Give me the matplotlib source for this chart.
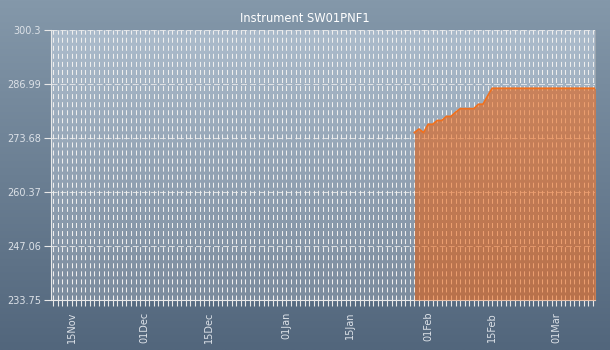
import numpy as np
import pandas as pd
import matplotlib
matplotlib.use("Agg")
import matplotlib.pyplot as plt
import matplotlib.dates as mdates

plt.rc("font", family="DejaVu Sans", size=7)
plt.rc("lines", scale_dashes=False)

# daily readings for the instrument
dates = pd.date_range("2019-01-29", "2019-03-10", freq="D")
values = [275.0, 275.9, 275.0, 277.06, 277.06, 278.0, 278.0, 279.0, 279.0, 280.0,
          280.9, 280.9, 280.9, 280.9, 282.0, 282.0, 284.0] + [285.93] * 24

y_ticks = [233.75, 247.06, 260.37, 273.68, 286.99, 300.3]
x_start, x_end = pd.Timestamp("2018-11-10 12:00"), pd.Timestamp("2019-03-09 12:00")

def vgrad(top, bottom, n=256):
    top = np.array(top) / 255.0
    bottom = np.array(bottom) / 255.0
    t = np.linspace(0, 1, n)[:, None]
    col = top * (1 - t) + bottom * t
    return np.repeat(col[:, None, :], 2, axis=1)

fig = plt.figure(figsize=(6.1, 3.5), dpi=100)
bg = fig.add_axes([0, 0, 1, 1], zorder=-10)
bg.imshow(vgrad((132, 152, 170), (82, 102, 124)), aspect="auto", extent=[0, 1, 0, 1])
bg.axis("off")

ax = fig.add_axes([51 / 610, 1 - 300 / 350, 544 / 610, 270 / 350])
ax.patch.set_alpha(0)
ax.imshow(vgrad((172, 188, 204), (124, 140, 158)), aspect="auto",
          extent=[0, 1, 0, 1], transform=ax.transAxes, zorder=0)

ax.fill_between(dates, values, y_ticks[0], color="#ea5c08", alpha=0.55, lw=0, zorder=3)
ax.plot(dates, values, color="#f0701e", lw=1.3, zorder=4)

ax.set_xlim(x_start, x_end)
ax.set_ylim(y_ticks[0], y_ticks[-1])
ax.set_yticks(y_ticks)
ax.set_yticklabels(["233.75", "247.06", "260.37", "273.68", "286.99", "300.3"])

ax.xaxis.set_major_locator(mdates.DayLocator(bymonthday=[1, 15]))
ax.xaxis.set_major_formatter(mdates.DateFormatter("%d%b"))
ax.xaxis.set_minor_locator(mdates.DayLocator())
ax.tick_params(axis="x", which="both", length=4, width=0.8, color="#e8e8e8",
               labelcolor="#dde2e8", labelrotation=90, pad=4.5)
ax.tick_params(axis="y", length=5, width=0.8, color="#e8e8e8", labelcolor="#dde2e8", pad=2)

ax.grid(True, axis="x", which="both", color="#eeeeee", lw=0.75,
        linestyle=(0, (3.6, 2.2)), zorder=1)
ax.grid(True, axis="y", which="major", color="#eeeeee", lw=0.75, alpha=0.8,
        linestyle=(0, (4.3, 2.2)), zorder=1)
ax.set_axisbelow(False)
for gl in ax.get_xgridlines() + ax.get_ygridlines():
    gl.set_zorder(1)

for s in ["left", "bottom"]:
    ax.spines[s].set_color("#e8e8e8")
ax.spines["right"].set_color("#9aa4ae")
ax.spines["top"].set_visible(False)

fig.text(305 / 610, 1 - 18 / 350, "Instrument SW01PNF1", ha="center", va="center",
         color="white", fontsize=8.3)

fig.savefig("out.png", dpi=100)
